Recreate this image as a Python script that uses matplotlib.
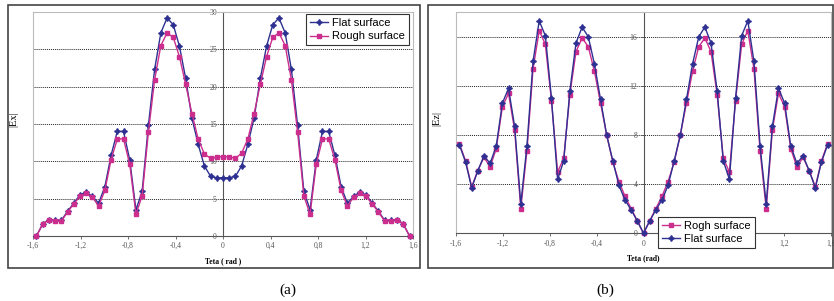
import numpy as np
import matplotlib.pyplot as plt
from matplotlib.patches import Rectangle
from matplotlib.ticker import FuncFormatter

# --------------------------------
# data, theta from -pi/2 to pi/2 in 3 deg steps
# --------------------------------
theta = np.deg2rad(np.arange(-90, 91, 3))

ex_flat = [0.0, 1.6, 2.2, 2.1, 2.1, 3.3, 4.4, 5.5, 5.9, 5.3, 4.4, 6.6, 10.8, 14.0, 14.0, 10.2,
           3.5, 6.0, 14.8, 22.3, 27.2, 29.2, 28.3, 25.4, 21.1, 15.8, 12.3, 9.4, 8.0, 7.8, 7.8,
           7.8, 8.0, 9.4, 12.3, 15.8, 21.1, 25.4, 28.3, 29.2, 27.2, 22.3, 14.8, 6.0, 3.5,
           10.2, 14.0, 14.0, 10.8, 6.6, 4.4, 5.3, 5.9, 5.5, 4.4, 3.3, 2.1, 2.1, 2.2, 1.6, 0.0]
ex_rough = [0.0, 1.6, 2.2, 2.0, 2.0, 3.2, 4.3, 5.3, 5.7, 5.2, 4.0, 6.1, 10.2, 13.0, 13.0, 9.6,
            2.9, 5.4, 13.9, 20.9, 25.5, 27.2, 26.6, 24.0, 20.3, 16.4, 13.0, 11.0, 10.4, 10.6, 10.6,
            10.6, 10.4, 11.1, 13.0, 16.4, 20.3, 24.0, 26.6, 27.2, 25.5, 20.9, 13.9, 5.4, 2.9,
            9.6, 13.0, 13.0, 10.2, 6.1, 4.0, 5.2, 5.7, 5.3, 4.3, 3.2, 2.0, 2.0, 2.2, 1.6, 0.0]

ez_flat = [7.2, 5.8, 3.7, 5.1, 6.3, 5.7, 7.1, 10.6, 11.8, 8.7, 2.4, 7.1, 14.0, 17.3, 16.1, 11.0,
           4.4, 5.9, 11.6, 15.5, 16.8, 16.0, 13.8, 10.9, 8.0, 5.9, 3.9, 2.7, 1.9, 1.0, 0.0,
           1.0, 1.9, 2.7, 3.9, 5.9, 8.0, 10.9, 13.8, 16.0, 16.8, 15.5, 11.6, 5.9, 4.4,
           11.0, 16.1, 17.3, 14.0, 7.1, 2.4, 8.7, 11.8, 10.6, 7.1, 5.7, 6.3, 5.1, 3.7, 5.8, 7.2]
ez_rough = [7.3, 5.9, 3.8, 5.1, 6.2, 5.4, 6.9, 10.3, 11.4, 8.4, 2.0, 6.7, 13.4, 16.5, 15.4, 10.8,
            5.0, 6.1, 11.3, 14.8, 15.9, 15.2, 13.2, 10.6, 8.0, 5.8, 4.2, 3.0, 2.0, 1.0, 0.0,
            1.0, 2.0, 3.0, 4.2, 5.8, 8.0, 10.6, 13.2, 15.2, 15.9, 14.8, 11.3, 6.1, 5.0,
            10.8, 15.4, 16.5, 13.4, 6.7, 2.0, 8.4, 11.4, 10.3, 6.9, 5.4, 6.2, 5.1, 3.8, 5.9, 7.3]

x_ticks = [-1.6, -1.2, -0.8, -0.4, 0.0, 0.4, 0.8, 1.2, 1.6]

BLUE = "#2E3192"
PINK = "#CC2E8E"
SERIF = "Liberation Serif"
SANS = "Liberation Sans"

comma = FuncFormatter(lambda v, p: ("%g" % round(v, 1)).replace(".", ","))

fig = plt.figure(figsize=(8.34, 3.01), dpi=100)
W, H = 834.0, 301.0


def style_axes(ax, ymax, ystep, ylabel, xlabel):
    ax.set_xlim(-1.6, 1.6)
    ax.set_ylim(0, ymax)
    ax.set_xticks(x_ticks)
    ax.set_yticks(np.arange(0, ymax + 0.01, ystep))
    ax.xaxis.set_major_formatter(comma)
    ax.yaxis.set_major_formatter(comma)
    ax.spines["left"].set_position(("data", 0))
    for s in ["left", "bottom"]:
        ax.spines[s].set_color("#555555")
        ax.spines[s].set_linewidth(0.8)
    for s in ["top", "right"]:
        ax.spines[s].set_color("#bbbbbb")
        ax.spines[s].set_linewidth(0.8)
    ax.plot([0, 0], [0, 1], transform=ax.transAxes, color="#bbbbbb", lw=0.8, clip_on=False)
    ax.tick_params(direction="out", length=2.5, width=0.6, color="#555555",
                   labelsize=5.5, labelcolor="#555555", pad=2)
    for lab in ax.get_xticklabels() + ax.get_yticklabels():
        lab.set_family(SERIF)
    ax.yaxis.grid(True, linestyle=(0, (1, 1)), color="#222222", linewidth=0.7)
    ax.set_axisbelow(True)
    ax.set_ylabel(ylabel, family=SERIF, fontsize=7.5)
    ax.yaxis.set_label_coords(-0.04, 0.52)
    ax.set_xlabel(xlabel, family=SERIF, fontsize=5.5, fontweight="bold", labelpad=5)


# --------------------------------
# (a) |Ex|
# --------------------------------
axL = fig.add_axes([33 / W, (H - 236) / H, 380 / W, 224 / H])
lf, = axL.plot(theta, ex_flat, color=BLUE, lw=1.0, marker=(4, 1, 0), ms=4.2,
               clip_on=False, zorder=3, label="Flat surface")
lr, = axL.plot(theta, ex_rough, color=PINK, lw=1.0, marker="s", ms=3.3,
               clip_on=False, zorder=3, label="Rough surface")
style_axes(axL, 30, 5, "|Ex|", "Teta ( rad )")
legL = axL.legend(handles=[lf, lr], loc="upper right", bbox_to_anchor=(0.99, 0.99),
                  borderaxespad=0, prop={"family": SANS, "size": 8}, fancybox=False,
                  framealpha=1, edgecolor="#333333", handlelength=1.6, handletextpad=0.4,
                  labelspacing=0.3, borderpad=0.35)
legL.get_frame().set_linewidth(0.8)
legL.set_zorder(10)

# --------------------------------
# (b) |Ez|
# --------------------------------
axR = fig.add_axes([456 / W, (H - 233.3) / H, 375 / W, 221 / H])
rr, = axR.plot(theta, ez_rough, color=PINK, lw=1.0, marker="s", ms=3.3,
               clip_on=False, zorder=3, label="Rogh surface")
rf, = axR.plot(theta, ez_flat, color=BLUE, lw=1.0, marker=(4, 1, 0), ms=4.2,
               clip_on=False, zorder=3, label="Flat surface")
style_axes(axR, 18, 4, "|Ez|", "Teta (rad)")
axR.set_yticks([0, 4, 8, 12, 16])
# tick labels 0,4 and 0,8 sit under the legend in the original
axR.set_xticklabels(["-1,6", "-1,2", "-0,8", "-0,4", "0", "", "", "1,2", "1,6"],
                    family=SERIF)
legR = axR.legend(handles=[rr, rf], loc="lower left", bbox_to_anchor=(0.539, -0.067),
                  borderaxespad=0, prop={"family": SANS, "size": 8}, fancybox=False,
                  framealpha=1, edgecolor="#333333", handlelength=1.6, handletextpad=0.4,
                  labelspacing=0.3, borderpad=0.35)
legR.get_frame().set_linewidth(0.8)
legR.set_zorder(10)

# panel frames and captions
fig.add_artist(Rectangle((8 / W, (H - 268) / H), 412 / W, 263 / H, transform=fig.transFigure,
                         fill=False, edgecolor="#444444", lw=1.2))
fig.add_artist(Rectangle((428 / W, (H - 268) / H), 405 / W, 263 / H, transform=fig.transFigure,
                         fill=False, edgecolor="#444444", lw=1.2))
fig.text(288 / W, (H - 290) / H, "(a)", family=SERIF, fontsize=11, ha="center", va="center")
fig.text(605 / W, (H - 290) / H, "(b)", family=SERIF, fontsize=11, ha="center", va="center")

plt.savefig("out.png", dpi=100)
